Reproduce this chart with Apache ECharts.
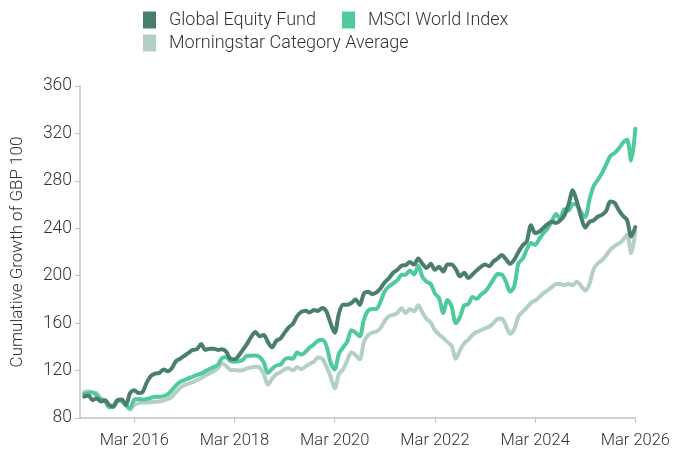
<!DOCTYPE html>
<html>
<head>
<meta charset="utf-8">
<script src="https://cdn.jsdelivr.net/npm/echarts@6/dist/echarts.min.js"></script>
<style>
  html, body { margin: 0; padding: 0; background: #fff; }
  #chart { width: 673px; height: 452px; }
</style>
</head>
<body>
<div id="chart"></div>
<script>
// axis runs monthly from Feb 2015 to Mar 2026, the series start in Mar 2015
const axisStart = { year: 2015, month: 1 };
const axisMonths = 134;
const seriesStartIndex = 1;

const seriesNames = ["Global Equity Fund", "MSCI World Index", "Morningstar Category Average"];

const fundValues = [
  98, 99, 95, 96.5, 94, 95, 91, 89.5, 95, 95.5, 91, 101,
  103.5, 101, 102, 110, 115.5, 117.5, 118, 121, 119.5, 122, 128, 130,
  132.5, 135, 137.4, 138, 142.5, 137.5, 138.5, 138.5, 137.4, 138, 136, 130,
  129.5, 132.5, 137.5, 142.5, 148.5, 152.5, 149, 150, 144, 139.5, 145, 147,
  152, 156.5, 159.5, 166, 169.5, 170.5, 168.9, 171, 170.3, 172.8, 170, 160,
  152, 168, 175.5, 175.5, 177, 180, 175.4, 185, 186.5, 184.5, 186, 189.5,
  194.5, 198, 202.5, 205, 208.5, 209, 211.5, 209.5, 214.5, 210, 206.5, 210,
  205, 207.5, 203.5, 209.5, 209.5, 205.5, 199.5, 202.5, 198, 201, 204.5, 207.5,
  209.5, 208, 212, 214.5, 217.5, 214, 210, 213.5, 220, 225.5, 229, 242.5,
  236, 237.3, 240.5, 243.5, 245.5, 244.5, 246.5, 251, 260, 272, 262.5, 249.5,
  240.5, 245.3, 246.8, 249.7, 251.3, 254.5, 262.5, 261.5, 255.5, 250.5, 247, 233, 241
];

const indexValues = [
  100.5, 101, 101.5, 99, 96, 94.5, 89, 90, 95, 94.5, 90.5, 88.5,
  95.5, 96, 95.5, 96, 97, 98, 98, 98.5, 100, 103.5, 107.5, 110.5,
  112, 113.5, 114.8, 116.3, 117.5, 119.5, 121.2, 123, 124.7, 130.5, 131.5, 128,
  127.5, 127.8, 129, 132.5, 132.5, 132.8, 131.5, 127, 118, 121.5, 124.3, 125,
  129.3, 130.5, 130, 135.2, 133.5, 135.8, 139.4, 142, 145.2, 146, 141, 127,
  121, 134, 139.5, 144.5, 154, 152, 149, 163, 170.6, 172, 172, 178.5,
  187, 191, 193.5, 196.2, 200.7, 201, 204.3, 201, 208.5, 199, 195, 193,
  185, 181, 168.5, 179.6, 174, 160, 165, 175, 176, 182, 180.5, 184,
  186.6, 191.3, 196.8, 201.4, 201, 195, 186.5, 191, 210.5, 214.3, 222, 227.5,
  226, 231, 236, 240, 246, 252, 248, 256, 255, 260.5, 259.5, 253.5,
  249.5, 264, 275.5, 280.7, 286.5, 293.7, 301, 303.3, 307, 312, 314.6, 297, 324
];

const categoryValues = [
  102, 102.5, 101.5, 101, 96, 94, 89.5, 91, 94.6, 94, 91, 87,
  91, 92.5, 93, 93, 93.5, 93.8, 94, 94.6, 96, 98, 102, 105.5,
  107.8, 109, 110.3, 111.7, 113.5, 115.8, 117.5, 119.5, 122, 126, 124, 120.5,
  120.5, 120, 120.3, 121.8, 122.7, 123.2, 122.5, 117, 108, 113, 117, 118.5,
  121, 122, 120, 123, 121.2, 123.5, 125.5, 127.5, 131, 130, 123.5, 115,
  105, 117, 121, 128.5, 135.5, 133, 129.5, 144, 150, 152, 153, 156,
  162, 166, 167, 168.5, 172.5, 168.5, 172, 170, 175, 169, 163.5, 160.5,
  154, 150.5, 147.5, 144, 141, 130, 137, 143, 146, 150, 152.5, 154,
  155.5, 157, 160, 163.5, 164, 158, 151, 155, 165.5, 169.5, 173, 177,
  179, 182, 185.3, 187.7, 190.3, 193, 193, 192, 193, 192, 195, 191.5,
  187.5, 193, 205.5, 210.5, 213, 217, 222, 225, 227, 230, 234.4, 219, 237
];

// labelled ticks: every second March
const tickYears = [2016, 2018, 2020, 2022, 2024, 2026];
const yTicks = { min: 80, max: 360, step: 40 };

const colors = ["#4b7f6d", "#4fca9b", "#b4cfc4"];
const font = "Roboto, 'Noto Sans', sans-serif";
const monthNames = ["Jan", "Feb", "Mar", "Apr", "May", "Jun", "Jul", "Aug", "Sep", "Oct", "Nov", "Dec"];

const months = [];
for (let i = 0; i < axisMonths; i++) {
  const m = axisStart.month + i;
  months.push(monthNames[m % 12] + " " + (axisStart.year + Math.floor(m / 12)));
}
const tickLabels = tickYears.map(y => "Mar " + y);
const isTick = (idx, label) => tickLabels.indexOf(label) >= 0;

function pairs(values) {
  return values.map((v, i) => [months[seriesStartIndex + i], v]);
}

const chart = echarts.init(document.getElementById("chart"));

const legendText = { color: "#333", fontSize: 18, fontFamily: font, fontWeight: 300, padding: [0, 0, 0, 8] };

const option = {
  animation: false,
  color: colors,
  grid: { left: 80, right: 35, top: 86, bottom: 34 },
  legend: [
    {
      data: seriesNames.slice(0, 2),
      left: 143, top: 11, padding: 0,
      icon: "rect", itemWidth: 13, itemHeight: 17, itemGap: 26,
      textStyle: legendText
    },
    {
      data: seriesNames.slice(2),
      left: 143, top: 34, padding: 0,
      icon: "rect", itemWidth: 13, itemHeight: 17,
      textStyle: legendText
    }
  ],
  xAxis: {
    type: "category",
    data: months,
    boundaryGap: false,
    splitLine: { show: false },
    axisLine: { lineStyle: { color: "#c4c4c4", width: 1.5 } },
    axisTick: { interval: isTick, length: 5, lineStyle: { color: "#c4c4c4" } },
    axisLabel: {
      interval: isTick,
      color: "#333", fontSize: 16.5, fontFamily: font, fontWeight: 300, margin: 14
    }
  },
  yAxis: {
    type: "value",
    min: yTicks.min, max: yTicks.max, interval: yTicks.step,
    name: "Cumulative Growth of GBP 100",
    nameLocation: "middle", nameGap: 54,
    nameTextStyle: { color: "#333", fontSize: 17, fontFamily: font, fontWeight: 300 },
    splitLine: { show: false },
    axisLine: { show: true, lineStyle: { color: "#c4c4c4", width: 1.5 } },
    axisTick: { show: true, length: 5, lineStyle: { color: "#c4c4c4" } },
    axisLabel: { color: "#333", fontSize: 17.5, fontFamily: font, fontWeight: 300, margin: 8 }
  },
  series: [
    { name: seriesNames[0], data: pairs(fundValues), z: 4 },
    { name: seriesNames[1], data: pairs(indexValues), z: 3 },
    { name: seriesNames[2], data: pairs(categoryValues), z: 2 }
  ].map(s => Object.assign({
    type: "line",
    showSymbol: false,
    smooth: 0.3,
    lineStyle: { width: 4, cap: "round", join: "round" }
  }, s))
};

chart.setOption(option);
</script>
</body>
</html>
